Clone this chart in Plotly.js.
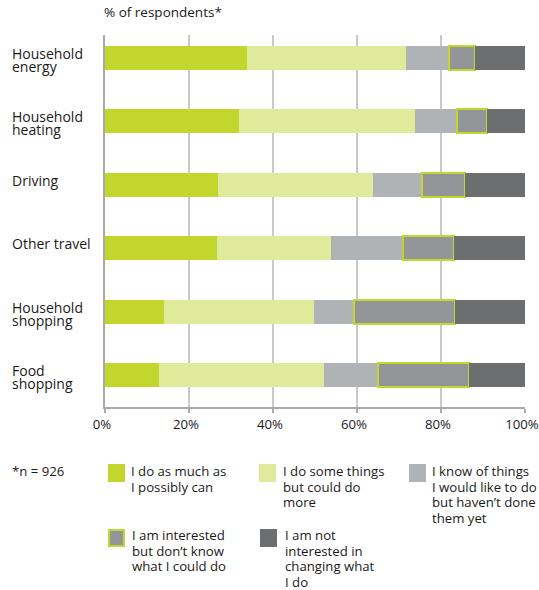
<!DOCTYPE html>
<html><head><meta charset="utf-8">
<script src="https://cdn.plot.ly/plotly-3.0.1.min.js"></script>
<style>html,body{margin:0;padding:0;background:#fff}#chart{width:539px;height:590px}</style>
</head><body><div id="chart"></div>
<script>
const categories = ['Household energy','Household heating','Driving','Other travel','Household shopping','Food shopping'];
const categoryLabels = [['Household','energy'],['Household','heating'],['Driving'],['Other travel'],['Household','shopping'],['Food','shopping']];
const seriesNames = ['I do as much as I possibly can','I do some things but could do more','I know of things I would like to do but haven\u2019t done them yet','I am interested but don\u2019t know what I could do','I am not interested in changing what I do'];
const seriesLines = [['I do as much as','I possibly can'],['I do some things','but could do','more'],['I know of things','I would like to do','but haven\u2019t done','them yet'],['I am interested','but don\u2019t know','what I could do'],['I am not','interested in','changing what','I do']];
const doMost      = [33.7, 32.0, 27.0, 26.7, 14.1, 12.9];
const doSome      = [38.0, 41.9, 36.8, 27.2, 35.7, 39.3];
const knowThings  = [10.3,  9.9, 11.7, 17.1,  9.6, 12.8];
const interested  = [ 6.2,  7.2, 10.3, 12.2, 24.0, 21.6];
const notInterest = [11.8,  9.0, 14.2, 16.8, 16.6, 13.4];
const xTickVals = [0,20,40,60,80,100];
const xTickText = ['0%','20%','40%','60%','80%','100%'];
const sampleNote = '*n = 926';
const colors = ['#c2d62e','#dfeb9b','#b0b3b6','#939598','#6d6e70'];
const borderGreen = '#c2d62e';
const seriesValues = [doMost, doSome, knowThings, interested, notInterest];

const FONT = 'Open Sans, Noto Sans, sans-serif';
const TXT = '#1a1a1a';
const L=105, R=14, T=35, B=183, W=539, H=590;
const pw = W-L-R, ph = H-T-B;
const px = x => (x-L)/pw;
const py = y => (H-B-y)/ph;

const traces = seriesValues.map((vals,i)=>({
  type:'bar', orientation:'h', x: vals, y: categories, name: seriesNames[i],
  marker:{color: colors[i], line: i===3 ? {color: borderGreen, width: 2} : {width:0}},
  hoverinfo:'x+y', showlegend:false
}));

const annotations = [];
categories.forEach((c,i)=>{
  categoryLabels[i].forEach((line,j)=>{
    annotations.push({xref:'paper', yref:'y', x: px(11), y: c, xanchor:'left', yanchor:'top',
      yshift: 15 - 13*j, borderpad:0,
      text: line, showarrow:false, align:'left', font:{family:FONT, size:14, color:TXT}});
  });
});
const LEG_FS = 13.2, LEG_LH = 15.6, BASE_OFF = 15.5;
annotations.push({xref:'paper', yref:'paper', x: px(11), y: py(476.5-BASE_OFF), xanchor:'left', yanchor:'top', borderpad:0,
  text: sampleNote, showarrow:false, align:'left', font:{family:FONT, size:LEG_FS, color:TXT}});

const legSw = [[108,464],[259,464],[409,464],[108,529],[260,529]];
const legTx = [[130,476.5],[282,476.5],[431,476.5],[131,540.5],[283.5,540.5]];
const shapes = [];
legSw.forEach((p,i)=>{
  const b = i===3 ? 1 : 0;
  shapes.push({type:'rect', xref:'paper', yref:'paper', x0:px(p[0]+b), x1:px(p[0]+17-b), y0:py(p[1]+18-b), y1:py(p[1]+b),
    fillcolor: colors[i], line: i===3 ? {color: borderGreen, width: 2} : {width:0}});
  seriesLines[i].forEach((line,j)=>{
    annotations.push({xref:'paper', yref:'paper', x:px(legTx[i][0]), y:py(legTx[i][1] + LEG_LH*j - BASE_OFF), xanchor:'left', yanchor:'top', borderpad:0,
      text: line, showarrow:false, align:'left', font:{family:FONT, size:LEG_FS, color:TXT}});
  });
});

const layout = {
  width: W, height: H, margin:{l:L, r:R, t:T, b:B, pad:0},
  paper_bgcolor:'#fff', plot_bgcolor:'#fff',
  barmode:'stack', bargap:0.62,
  title:{text:'% of respondents*', xref:'container', yref:'container', x:104/W, xanchor:'left', y:1-8/H, yanchor:'top',
    font:{family:FONT, size:13.5, color:TXT}},
  xaxis:{range:[0,100], tickvals:xTickVals, ticktext:xTickText, showgrid:true, gridcolor:'#c9c9c9', gridwidth:1.5,
    zeroline:false, showline:true, linecolor:'#a7a9ab', linewidth:2, ticks:'outside', ticklen:4, tickcolor:'#a7a9ab', tickwidth:1.5,
    ticklabeloverflow:'allow', ticklabelshift:-3, tickfont:{family:FONT, size:13.2, color:TXT}, fixedrange:true},
  yaxis:{type:'category', categoryorder:'array', categoryarray: categories.slice().reverse(), range:[-0.5,5.36],
    showticklabels:false, showgrid:false, showline:true, linecolor:'#a7a9ab', linewidth:2, ticks:'', zeroline:false, fixedrange:true},
  annotations, shapes, showlegend:false
};
Plotly.newPlot('chart', traces, layout, {displayModeBar:false, staticPlot:true});
</script></body></html>
